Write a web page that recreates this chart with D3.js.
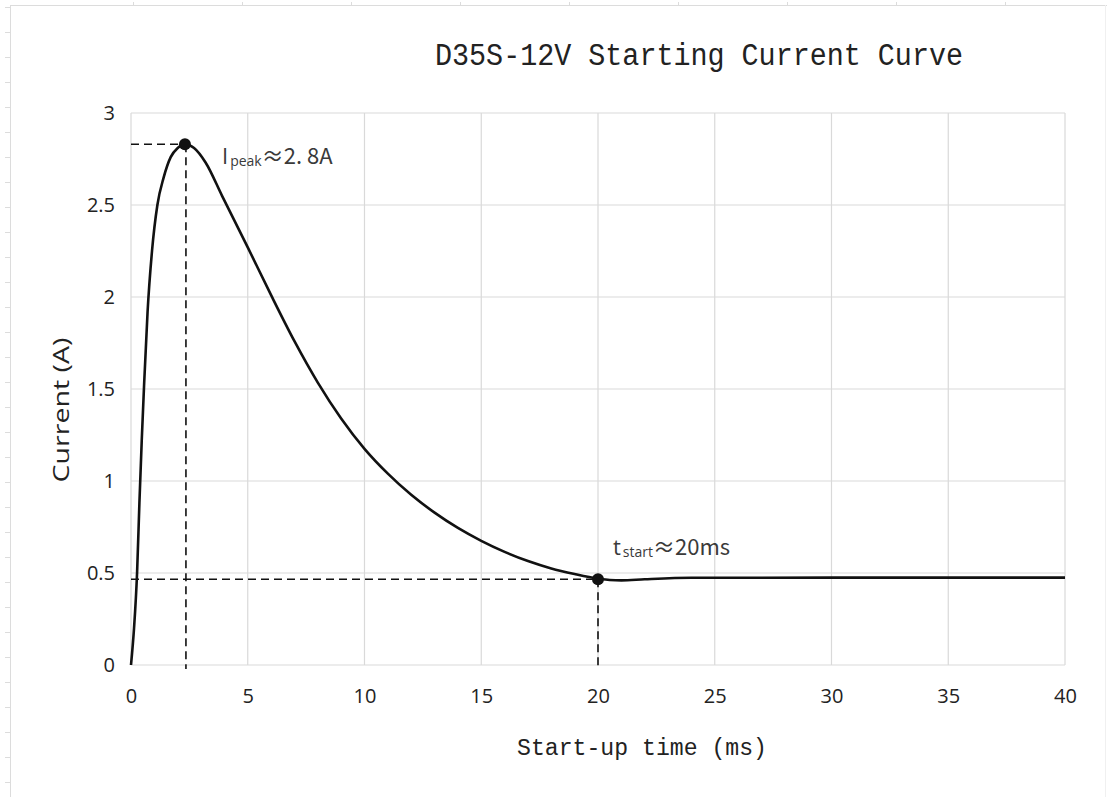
<!DOCTYPE html>
<html><head><meta charset="utf-8">
<script src="https://cdn.jsdelivr.net/npm/d3@7"></script>
<style>body{margin:0;background:#fff;} svg{display:block;}</style>
</head><body>
<svg id="chart" width="1107" height="797"></svg>
<script>
// ---- data ----
const chartTitle = "D35S-12V Starting Current Curve";
const xAxisTitle = "Start-up time (ms)";
const yAxisTitle = "Current (A)";
const xTicks = [0, 5, 10, 15, 20, 25, 30, 35, 40];
const yTicks = [0, 0.5, 1, 1.5, 2, 2.5, 3];
const timeMs = [0, 0.13, 0.26, 0.36, 0.46, 0.56, 0.71, 0.9, 1.13, 1.4, 1.7, 2.0, 2.31, 2.7, 3.2, 3.9, 5, 6, 7, 8, 9, 10, 11, 12, 13, 14, 15, 16, 17, 18, 19, 20, 20.5, 21, 22, 24, 30, 40];
const currentA = [0, 0.2, 0.5, 0.88, 1.22, 1.52, 1.92, 2.25, 2.5, 2.65, 2.76, 2.81, 2.83, 2.81, 2.73, 2.55, 2.27, 2.01, 1.76, 1.535, 1.34, 1.175, 1.04, 0.925, 0.828, 0.745, 0.675, 0.615, 0.565, 0.525, 0.495, 0.47, 0.462, 0.46, 0.466, 0.474, 0.475, 0.475];
const peakPoint = {t: 2.31, i: 2.83};
const startPoint = {t: 20.0, i: 0.466};
const peakLabel = {main: "I", sub: "peak", rest: "≈2. 8A"};
const startLabel = {main: "t", sub: "start", rest: "≈20ms"};

// ---- layout ----
const svg = d3.select("#chart");
const L = 131, R = 1065, T = 113, B = 665;
const x = d3.scaleLinear().domain([0, 40]).range([L, R]);
const y = d3.scaleLinear().domain([0, 3]).range([B, T]);

// page frame (faint sheet border with ruler marks)
const frame = svg.append("g").attr("stroke", "#dcdcdc").attr("stroke-width", 1);
frame.append("line").attr("x1", 10.5).attr("x2", 1107).attr("y1", 5.5).attr("y2", 5.5);
frame.append("line").attr("x1", 10.5).attr("x2", 10.5).attr("y1", 5).attr("y2", 797);
frame.append("line").attr("x1", 1105.5).attr("x2", 1105.5).attr("y1", 5).attr("y2", 797).attr("stroke", "#f0f0f0");
frame.selectAll("line.lt").data(d3.range(7, 797, 25)).join("line")
  .attr("x1", 5).attr("x2", 10).attr("y1", d => d + 0.5).attr("y2", d => d + 0.5);
frame.selectAll("line.tt").data(d3.range(133, 1100, 109)).join("line")
  .attr("x1", d => d + 0.5).attr("x2", d => d + 0.5).attr("y1", 2).attr("y2", 6);

// gridlines
const grid = svg.append("g").attr("stroke", "#d9d9d9").attr("stroke-width", 1.2);
grid.selectAll("line.v").data(xTicks).join("line")
  .attr("x1", d => x(d)).attr("x2", d => x(d)).attr("y1", T).attr("y2", B);
grid.selectAll("line.h").data(yTicks).join("line")
  .attr("x1", L).attr("x2", R).attr("y1", d => y(d)).attr("y2", d => y(d));

// axes tick labels via d3 axes
const xAxis = svg.append("g").attr("transform", `translate(0,${B})`)
  .call(d3.axisBottom(x).tickValues(xTicks).tickSize(0).tickPadding(24).tickFormat(d3.format("d")));
const yAxis = svg.append("g").attr("transform", `translate(${L},0)`)
  .call(d3.axisLeft(y).tickValues(yTicks).tickSize(0).tickPadding(16).tickFormat(d => d3.format("")(d)));
[xAxis, yAxis].forEach(g => {
  g.select(".domain").remove();
  g.selectAll("text").attr("font-family", "'Open Sans', sans-serif").attr("font-size", 20).attr("fill", "#222");
});
xAxis.selectAll("text").attr("dy", "0.71em");

// dashed guides
const dash = svg.append("g").attr("stroke", "#111").attr("stroke-width", 1.6).attr("stroke-dasharray", "8,5").attr("fill", "none");
dash.append("line").attr("x1", x(0)).attr("x2", x(peakPoint.t)).attr("y1", y(peakPoint.i)).attr("y2", y(peakPoint.i));
dash.append("line").attr("x1", x(peakPoint.t) + 1).attr("x2", x(peakPoint.t) + 1).attr("y1", y(peakPoint.i)).attr("y2", y(0) + 4);
dash.append("line").attr("x1", x(0)).attr("x2", x(startPoint.t)).attr("y1", y(startPoint.i)).attr("y2", y(startPoint.i));
dash.append("line").attr("x1", x(startPoint.t)).attr("x2", x(startPoint.t)).attr("y1", y(startPoint.i)).attr("y2", y(0) + 4);

// curve
const pts = timeMs.map((t, k) => [t, currentA[k]]);
svg.append("path").datum(pts)
  .attr("fill", "none").attr("stroke", "#111").attr("stroke-width", 2.6)
  .attr("d", d3.line().x(d => x(d[0])).y(d => y(d[1])).curve(d3.curveMonotoneX));

// markers
svg.selectAll("circle.m").data([peakPoint, startPoint]).join("circle")
  .attr("cx", d => x(d.t)).attr("cy", d => y(d.i)).attr("r", 6).attr("fill", "#111");

// annotation labels
function label(lbl, px, py) {
  const t = svg.append("text").attr("x", px).attr("y", py)
    .attr("font-family", "'Open Sans', sans-serif").attr("fill", "#3a3a3a");
  t.append("tspan").attr("font-size", 22).text(lbl.main);
  t.append("tspan").attr("font-size", 14).attr("dy", 2).attr("dx", 2).text(lbl.sub);
  t.append("tspan").attr("font-size", 22).attr("dy", -2).attr("font-family", "'Noto Sans CJK SC', sans-serif").text(lbl.rest);
}
label(peakLabel, 222, 164);
label(startLabel, 613, 555);

// titles
svg.append("text").attr("x", 435).attr("y", 65)
  .attr("font-family", "'Liberation Mono', 'DejaVu Sans Mono', monospace").attr("font-size", 31)
  .attr("textLength", 528).attr("lengthAdjust", "spacingAndGlyphs").attr("fill", "#222").text(chartTitle);
svg.append("text").attr("x", 642).attr("y", 755).attr("text-anchor", "middle")
  .attr("font-family", "'Liberation Mono', 'DejaVu Sans Mono', monospace").attr("font-size", 23)
  .attr("textLength", 250).attr("lengthAdjust", "spacingAndGlyphs").attr("fill", "#222").text(xAxisTitle);
svg.append("text").attr("transform", "translate(69,410) rotate(-90)").attr("text-anchor", "middle")
  .attr("font-family", "'Open Sans', sans-serif").attr("font-size", 21)
  .attr("textLength", 145).attr("lengthAdjust", "spacingAndGlyphs").attr("fill", "#222").text(yAxisTitle);
</script>
</body></html>
